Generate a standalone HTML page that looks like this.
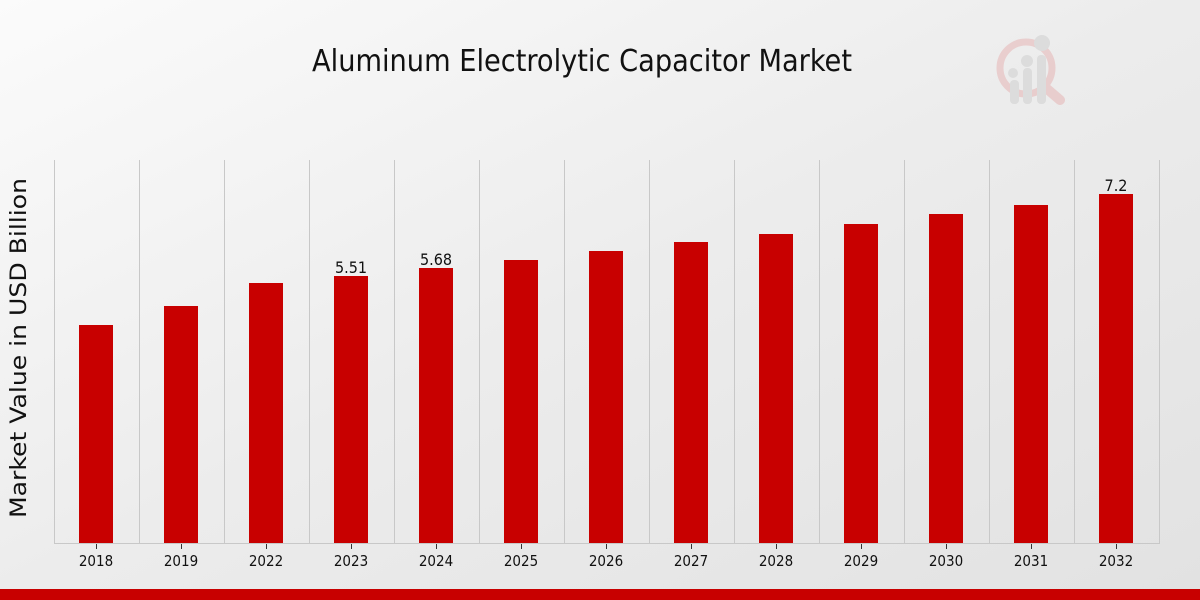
<!DOCTYPE html>
<html><head><style>
html,body{margin:0;padding:0;width:1200px;height:600px;overflow:hidden}
</style></head><body>
<svg width="1200" height="600" xmlns="http://www.w3.org/2000/svg">
<defs>
<linearGradient id="bg" x1="0" y1="0" x2="1" y2="1">
<stop offset="0" stop-color="#fbfbfb"/><stop offset="0.5" stop-color="#ececec"/><stop offset="1" stop-color="#e2e2e2"/>
</linearGradient>
</defs>
<rect width="1200" height="600" fill="url(#bg)"/>
<text x="582" y="71" text-anchor="middle" font-family="DejaVu Sans Condensed, Liberation Sans Narrow, sans-serif" font-size="30" fill="#111" textLength="540" lengthAdjust="spacingAndGlyphs">Aluminum Electrolytic Capacitor Market</text>
<g opacity="0.55">
<circle cx="1026" cy="68" r="26" fill="none" stroke="#e6b5b5" stroke-width="7"/>
<line x1="1046" y1="88" x2="1060" y2="100" stroke="#e6b5b5" stroke-width="10" stroke-linecap="round"/>
<rect x="1010" y="80" width="9" height="24" rx="4" fill="#cfcfcf"/>
<rect x="1023" y="68" width="9" height="36" rx="4" fill="#cfcfcf"/>
<rect x="1037" y="55" width="9" height="49" rx="4" fill="#cfcfcf"/>
<circle cx="1013" cy="73" r="5" fill="#cfcfcf"/><circle cx="1027" cy="61" r="6" fill="#cfcfcf"/><circle cx="1042" cy="43" r="8" fill="#cfcfcf"/>
</g>
<g stroke="#c8c8c8" stroke-width="1">
<line x1="54.5" y1="160" x2="54.5" y2="543"/><line x1="139.5" y1="160" x2="139.5" y2="543"/><line x1="224.5" y1="160" x2="224.5" y2="543"/><line x1="309.5" y1="160" x2="309.5" y2="543"/><line x1="394.5" y1="160" x2="394.5" y2="543"/><line x1="479.5" y1="160" x2="479.5" y2="543"/><line x1="564.5" y1="160" x2="564.5" y2="543"/><line x1="649.5" y1="160" x2="649.5" y2="543"/><line x1="734.5" y1="160" x2="734.5" y2="543"/><line x1="819.5" y1="160" x2="819.5" y2="543"/><line x1="904.5" y1="160" x2="904.5" y2="543"/><line x1="989.5" y1="160" x2="989.5" y2="543"/><line x1="1074.5" y1="160" x2="1074.5" y2="543"/><line x1="1159.5" y1="160" x2="1159.5" y2="543"/>
<line x1="54" y1="543.5" x2="1160" y2="543.5"/>
</g>
<g fill="#c80000">
<rect x="79" y="325" width="34" height="218"/>
<rect x="164" y="306" width="34" height="237"/>
<rect x="249" y="283" width="34" height="260"/>
<rect x="334" y="276" width="34" height="267"/>
<rect x="419" y="268" width="34" height="275"/>
<rect x="504" y="260" width="34" height="283"/>
<rect x="589" y="251" width="34" height="292"/>
<rect x="674" y="242" width="34" height="301"/>
<rect x="759" y="234" width="34" height="309"/>
<rect x="844" y="224" width="34" height="319"/>
<rect x="929" y="214" width="34" height="329"/>
<rect x="1014" y="205" width="34" height="338"/>
<rect x="1099" y="194" width="34" height="349"/>
</g>
<g stroke="#333" stroke-width="1">
<line x1="96.5" y1="544" x2="96.5" y2="549"/><line x1="181.5" y1="544" x2="181.5" y2="549"/><line x1="266.5" y1="544" x2="266.5" y2="549"/><line x1="351.5" y1="544" x2="351.5" y2="549"/><line x1="436.5" y1="544" x2="436.5" y2="549"/><line x1="521.5" y1="544" x2="521.5" y2="549"/><line x1="606.5" y1="544" x2="606.5" y2="549"/><line x1="691.5" y1="544" x2="691.5" y2="549"/><line x1="776.5" y1="544" x2="776.5" y2="549"/><line x1="861.5" y1="544" x2="861.5" y2="549"/><line x1="946.5" y1="544" x2="946.5" y2="549"/><line x1="1031.5" y1="544" x2="1031.5" y2="549"/><line x1="1116.5" y1="544" x2="1116.5" y2="549"/>
</g>
<g font-family="DejaVu Sans Condensed, Liberation Sans Narrow, sans-serif" font-size="15" fill="#111" text-anchor="middle">
<text x="96" y="566">2018</text><text x="181" y="566">2019</text><text x="266" y="566">2022</text><text x="351" y="566">2023</text><text x="436" y="566">2024</text><text x="521" y="566">2025</text><text x="606" y="566">2026</text><text x="691" y="566">2027</text><text x="776" y="566">2028</text><text x="861" y="566">2029</text><text x="946" y="566">2030</text><text x="1031" y="566">2031</text><text x="1116" y="566">2032</text>
<text x="351" y="273" font-size="16">5.51</text>
<text x="436" y="265" font-size="16">5.68</text>
<text x="1116" y="191" font-size="16">7.2</text>
</g>
<text transform="translate(26,348) rotate(-90)" text-anchor="middle" font-family="DejaVu Sans, sans-serif" font-size="22" fill="#111" textLength="340" lengthAdjust="spacingAndGlyphs">Market Value in USD Billion</text>
<rect x="0" y="589" width="1200" height="11" fill="#c80000"/>
</svg>
</body></html>
